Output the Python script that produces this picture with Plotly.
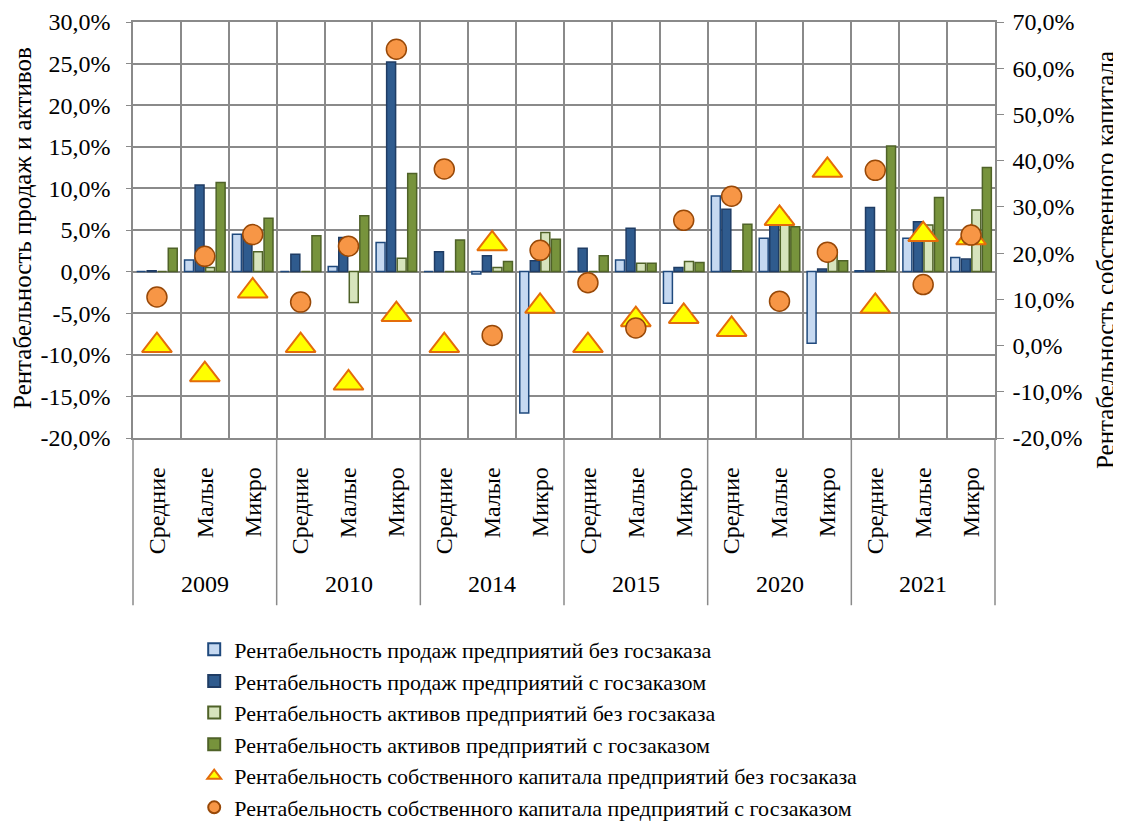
import plotly.graph_objects as go
from plotly.subplots import make_subplots

# Categories
years = ["2009", "2010", "2014", "2015", "2020", "2021"]
sizes = ["Средние", "Малые", "Микро"]

# Left axis, % (bars)
sales_no_order = [0.0, 1.4, 4.5, 0.0, 0.6, 3.5, 0.0, -0.3, -17.0, 0.0, 1.4, -3.8, 9.1, 4.0, -8.6, 0.1, 4.0, 1.7]
sales_order = [0.1, 10.4, 4.3, 2.1, 4.1, 25.2, 2.4, 1.9, 1.3, 2.8, 5.2, 0.5, 7.5, 6.0, 0.3, 7.7, 6.0, 1.5]
assets_no_order = [0.0, 0.5, 2.4, 0.0, -3.7, 1.6, 0.0, 0.5, 4.7, 0.0, 1.0, 1.2, 0.1, 6.5, 2.6, 0.1, 5.6, 7.4]
assets_order = [2.8, 10.7, 6.4, 4.3, 6.7, 11.8, 3.8, 1.2, 3.9, 1.9, 1.0, 1.1, 5.7, 5.4, 1.3, 15.1, 8.9, 12.5]

# Right axis, % (markers)
equity_no_order = [0.0, -6.3, 11.8, 0.0, -8.1, 6.7, 0.0, 22.0, 8.5, 0.0, 5.6, 6.3, 3.5, 27.5, 37.9, 8.5, 24.0, 23.3]
equity_order = [10.5, 19.3, 24.0, 9.4, 21.5, 64.1, 38.2, 2.2, 20.6, 13.6, 3.8, 27.1, 32.3, 9.6, 20.2, 37.9, 13.2, 23.9]

left_ticks = [-20, -15, -10, -5, 0, 5, 10, 15, 20, 25, 30]
right_ticks = [-20, -10, 0, 10, 20, 30, 40, 50, 60, 70]

FONT = "Liberation Serif, Times New Roman, serif"
GRID = "#8a8a8a"


def pct(v):
    return f"{v:.1f}".replace(".", ",") + "%"


keys = [y + " " + s for y in years for s in sizes]
labels = [s for y in years for s in sizes]
n = len(keys)

fig = make_subplots(specs=[[{"secondary_y": True}]])

bars = [
    ("Рентабельность продаж предприятий без госзаказа", sales_no_order, "#C6D9F1", "#1F497D"),
    ("Рентабельность продаж предприятий с госзаказом", sales_order, "#2F5B8E", "#1F3C64"),
    ("Рентабельность активов предприятий без госзаказа", assets_no_order, "#D7E4BD", "#4F6228"),
    ("Рентабельность активов предприятий с госзаказом", assets_order, "#77933C", "#4F6228"),
]
for name, vals, fill, line in bars:
    fig.add_trace(go.Bar(x=keys, y=vals, name=name,
                         marker=dict(color=fill, line=dict(color=line, width=1.5))),
                  secondary_y=False)

fig.add_trace(go.Scatter(x=keys, y=equity_no_order, mode="markers",
                         name="Рентабельность собственного капитала предприятий без госзаказа",
                         marker=dict(symbol="triangle-up", size=26, color="#FFFF00",
                                     line=dict(color="#E46C0A", width=2))),
              secondary_y=True)
fig.add_trace(go.Scatter(x=keys, y=equity_order, mode="markers",
                         name="Рентабельность собственного капитала предприятий с госзаказом",
                         marker=dict(symbol="circle", size=20, color="#F79646",
                                     line=dict(color="#984807", width=1.5))),
              secondary_y=True)

# year labels and dividers under the category axis
annotations = []
shapes = []
for i, y in enumerate(years):
    annotations.append(dict(x=(3 * i + 1.5) / n, xref="paper", y=0, yref="paper",
                            xanchor="center", yanchor="middle", yshift=-146,
                            text=y, showarrow=False,
                            font=dict(family=FONT, size=24, color="black")))
for i in range(len(years) + 1):
    xp = 3 * i / n
    shapes.append(dict(type="line", xref="paper", yref="paper", x0=xp, x1=xp,
                       y0=0, y1=-0.402, line=dict(color=GRID, width=1.5)))

annotations.append(dict(x=-0.1276, xref="paper", y=0.505, yref="paper", textangle=-90,
                        xanchor="center", yanchor="middle",
                        text="Рентабельность продаж и активов", showarrow=False,
                        font=dict(family=FONT, size=25, color="black")))
annotations.append(dict(x=1.1288, xref="paper", y=0.428, yref="paper", textangle=-90,
                        xanchor="center", yanchor="middle",
                        text="Рентабельность собственного капитала", showarrow=False,
                        font=dict(family=FONT, size=25, color="black")))

# page body adds an 8px offset, so the figure is 8px smaller on each axis
fig.update_layout(
    width=1113, height=813,
    margin=dict(l=125, r=126, t=14, b=383, autoexpand=False),
    paper_bgcolor="white", plot_bgcolor="white",
    font=dict(family=FONT, size=24, color="black"),
    barmode="group", bargap=0.12, bargroupgap=0.15,
    showlegend=True,
    legend=dict(x=0.071, y=-0.458, xanchor="left", yanchor="top",
                font=dict(family=FONT, size=22), itemsizing="constant",
                tracegroupgap=0, traceorder="normal"),
    annotations=annotations, shapes=shapes,
)

fig.update_xaxes(type="category", categoryorder="array", categoryarray=keys,
                 tickmode="array", tickvals=keys, ticktext=labels,
                 tickangle=-90, tickson="boundaries", ticks="",
                 ticklabelstandoff=18, domain=[0, 1], automargin=False,
                 showgrid=True, gridcolor=GRID, gridwidth=1.5,
                 showline=True, linecolor=GRID, linewidth=1.5, mirror=True,
                 tickfont=dict(family=FONT, size=24), range=[-0.5, n - 0.5])

fig.update_yaxes(range=[-20, 30], tickmode="array", tickvals=left_ticks,
                 ticktext=[pct(v) for v in left_ticks], automargin=False,
                 showgrid=True, gridcolor=GRID, gridwidth=1.5,
                 zeroline=True, zerolinecolor=GRID, zerolinewidth=1.5,
                 showline=True, linecolor=GRID, linewidth=1.5,
                 ticks="outside", ticklen=5, tickcolor=GRID, ticklabelstandoff=11,
                 tickfont=dict(family=FONT, size=24), secondary_y=False)

fig.update_yaxes(range=[-20, 70], tickmode="array", tickvals=right_ticks,
                 ticktext=[pct(v) for v in right_ticks], automargin=False,
                 showgrid=False, zeroline=False,
                 showline=True, linecolor=GRID, linewidth=1.5,
                 ticks="outside", ticklen=7, tickcolor=GRID, ticklabelstandoff=4,
                 tickfont=dict(family=FONT, size=24), secondary_y=True)

fig.write_html("out.html")
